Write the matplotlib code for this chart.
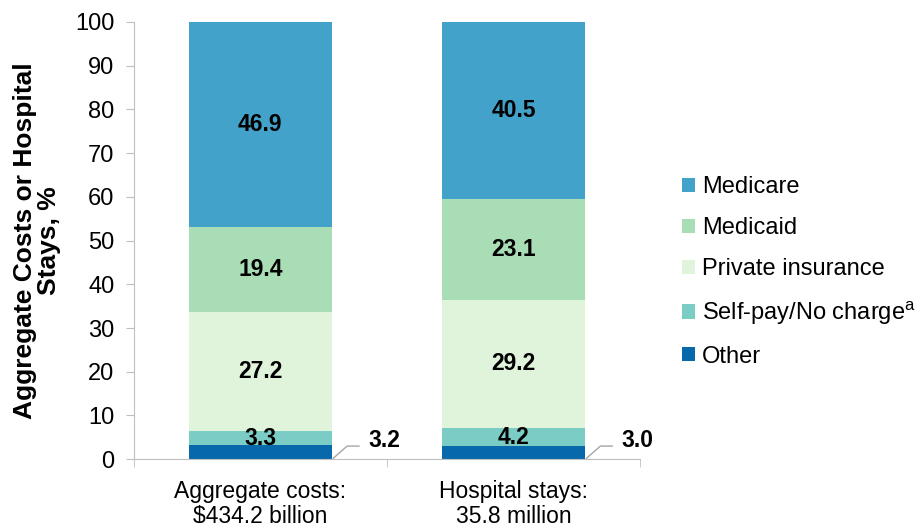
import matplotlib.pyplot as plt
import numpy as np

plt.rcParams['font.family'] = ['Liberation Sans', 'DejaVu Sans']

categories = ['Aggregate costs:\n$434.2 billion', 'Hospital stays:\n35.8 million']
series = ['Other', 'Self-pay/No charge', 'Private insurance', 'Medicaid', 'Medicare']
other = [3.2, 3.0]
selfpay = [3.3, 4.2]
private = [27.2, 29.2]
medicaid = [19.4, 23.1]
medicare = [46.9, 40.5]
colors = ['#0868ac', '#7bccc4', '#e0f3db', '#a8ddb5', '#43a2ca']

values = [other, selfpay, private, medicaid, medicare]

fig = plt.figure(figsize=(9.16, 5.23), dpi=100)
ax = fig.add_axes([0.146, 0.122, 0.553, 0.836])

x = np.arange(len(categories))
bottom = np.zeros(len(categories))
handles = {}
for name, vals, c in zip(series, values, colors):
    bars = ax.bar(x, vals, 0.565, bottom=bottom, color=c, label=name)
    handles[name] = bars
    for xi, v, b in zip(x, vals, bottom):
        if name == 'Other':
            # small value, label outside with leader line
            x0 = xi + 0.565 / 2
            ax.plot([x0 + 0.005, x0 + 0.06, x0 + 0.107], [0.2, 3.0, 3.0],
                    color='#a6a6a6', lw=1, clip_on=False)
            ax.text(x0 + 0.145, 4.3, f'{v:.1f}', ha='left', va='center',
                    fontsize=16.5, fontweight='bold')
        elif name == 'Self-pay/No charge':
            ax.text(xi, b + v / 2 - 0.2, f'{v:.1f}', ha='center', va='center',
                    fontsize=16.5, fontweight='bold')
        else:
            ax.text(xi, b + v / 2, f'{v:.1f}', ha='center', va='center',
                    fontsize=16.5, fontweight='bold')
    bottom += np.array(vals)

ax.set_xlim(-0.5, 1.5)
ax.set_ylim(0, 100)
ax.set_yticks(range(0, 101, 10))
ax.tick_params(axis='y', labelsize=17, color='#bfbfbf', length=6, pad=8)
ax.set_xticks(x)
ax.set_xticklabels(categories, fontsize=16.5, linespacing=1.1)
ax.tick_params(axis='x', length=0, pad=15)
ax.set_xticks([-0.5, 0.5, 1.5], minor=True)
ax.tick_params(axis='x', which='minor', length=6, color='#bfbfbf')
for s in ['top', 'right']:
    ax.spines[s].set_visible(False)
for s in ['left', 'bottom']:
    ax.spines[s].set_color('#bfbfbf')
ax.set_ylabel('Aggregate Costs or Hospital\nStays, %', fontsize=19,
              fontweight='bold', linespacing=1.0, labelpad=10)

order = ['Medicare', 'Medicaid', 'Private insurance', 'Self-pay/No charge', 'Other']
labels = ['Medicare', 'Medicaid', 'Private insurance',
          'Self-pay/No charge$^{\\mathregular{a}}$', 'Other']
fig.legend([handles[n] for n in order], labels, loc='center left',
           bbox_to_anchor=(0.721, 0.48), frameon=False, fontsize=17,
           handlelength=0.55, handleheight=0.55, handletextpad=0.3,
           labelspacing=0.8)

fig.savefig('out.png', dpi=100)
